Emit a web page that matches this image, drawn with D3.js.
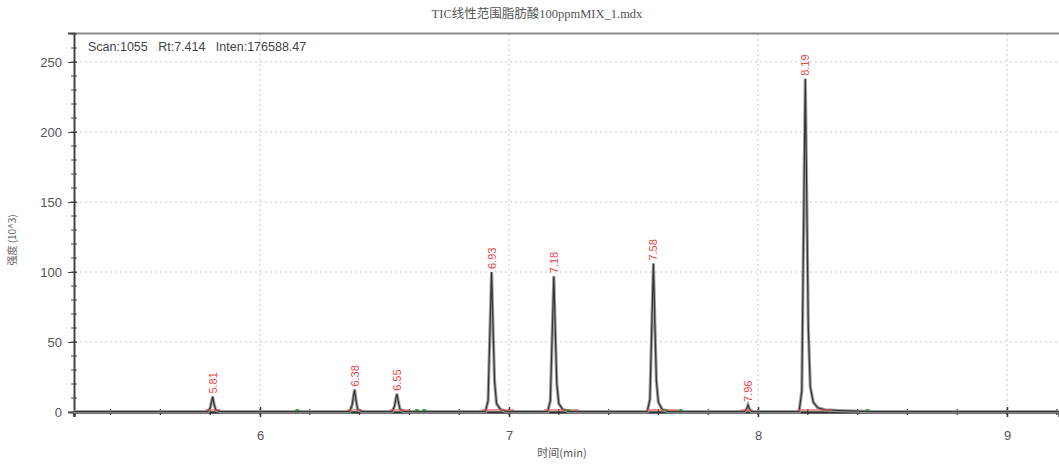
<!DOCTYPE html>
<html><head><meta charset="utf-8">
<script src="https://cdn.jsdelivr.net/npm/d3@7"></script>
<style>body{margin:0;background:#fff}svg{display:block}text{font-family:Arial,"Liberation Sans",sans-serif}</style>
</head><body><svg id="c" width="1059" height="467"></svg>
<script>
// Chromatogram trace (time in min, intensity in 10^3)
const traceTime = [5.25,5.79,5.800,5.806,5.810,5.815,5.822,5.84,
  6.36,6.370,6.376,6.380,6.385,6.392,6.41,
  6.53,6.540,6.546,6.550,6.555,6.562,6.58,
  6.905,6.916,6.923,6.930,6.936,6.942,6.950,6.965,6.99,
  7.155,7.166,7.173,7.180,7.186,7.192,7.200,7.215,7.24,
  7.555,7.566,7.573,7.580,7.586,7.592,7.600,7.615,7.64,
  7.945,7.954,7.960,7.966,7.975,
  8.165,8.176,8.183,8.190,8.196,8.202,8.210,8.222,8.24,8.27,8.33,8.40,8.45,9.21];
const traceInt = [0.3,0.3,3,8,11,6,1.5,0.3,
  0.3,5,12,16,9,2,0.3,
  0.3,4,10,13,8,2,0.3,
  0.3,8,55,100,60,22,6,2,0.3,
  0.3,8,52,97,58,20,6,2,0.3,
  0.3,9,58,106,62,22,7,2,0.3,
  0.3,2,5,2,0.3,
  0.3,15,130,238,150,60,18,7,3,1.5,1,0.6,0.3,0.3];

const peakTimes = [5.81,6.38,6.55,6.93,7.18,7.58,7.96,8.19];
const peakLabels = ["5.81","6.38","6.55","6.93","7.18","7.58","7.96","8.19"];
const peakHeights = [11,16,13,100,97,106,5,238];
const intStart = [5.78,6.35,6.52,6.89,7.14,7.55,7.93,8.16];
const intEnd = [5.84,6.41,6.60,7.02,7.28,7.68,7.98,8.30];
const greenMarks = [6.15,6.63,6.66,7.24,7.63,7.69,8.44];

const yTicks = [0,50,100,150,200,250];
const xTicks = [6,7,8,9];
const titleText = "TIC线性范围脂肪酸100ppmMIX_1.mdx";
const scanText = "Scan:1055   Rt:7.414   Inten:176588.47";
const yLabel = "强度 (10^3)";
const xLabel = "时间(min)";

const svg = d3.select("#c");
const x = d3.scaleLinear().domain([6 - 186/249, 9 + 52/249]).range([74, 1059]);
const y = d3.scaleLinear().domain([0, 379/1.4]).range([412, 33]);

// grid
const grid = svg.append("g").attr("stroke","#c8c8c8").attr("stroke-dasharray","2,3").attr("stroke-width",1);
grid.selectAll(".hg").data(yTicks.filter(d=>d>0)).join("line")
  .attr("x1",75).attr("x2",1059).attr("y1",d=>y(d)).attr("y2",d=>y(d));
grid.selectAll(".vg").data(xTicks).join("line")
  .attr("x1",d=>x(d)).attr("x2",d=>x(d)).attr("y1",34).attr("y2",411);

// frame top
svg.append("line").attr("x1",74).attr("x2",1059).attr("y1",33.5).attr("y2",33.5).attr("stroke","#8a8a8a").attr("stroke-width",2);

// y axis
const yAxis = d3.axisLeft(y).tickValues(yTicks).tickSize(6).tickPadding(6).tickFormat(d3.format("d"));
const ya = svg.append("g").attr("transform","translate(74,0)").call(yAxis);
ya.select(".domain").attr("stroke","#444").attr("stroke-width",2);
ya.selectAll(".tick line").attr("stroke","#444").attr("x2",-6).attr("x1",3);
ya.selectAll("text").attr("font-size",13).attr("fill","#555");
const yMinor = d3.range(0,271,10);
svg.append("g").selectAll("line").data(yMinor).join("line")
  .attr("x1",71).attr("x2",77).attr("y1",d=>y(d)).attr("y2",d=>y(d)).attr("stroke","#444");

// x axis
const xAxis = d3.axisBottom(x).tickValues(xTicks).tickSize(5).tickPadding(14).tickFormat(d3.format("d"));
const xa = svg.append("g").attr("transform","translate(0,412)").call(xAxis);
xa.select(".domain").attr("stroke","#333").attr("stroke-width",2.5);
xa.selectAll(".tick line").attr("stroke","#333").attr("y1",-5).attr("stroke-width",1.5);
xa.selectAll("text").attr("font-size",13).attr("fill","#555");
const xMinor = d3.range(5.4,9.21,0.2);
svg.append("g").selectAll("line").data(xMinor).join("line")
  .attr("x1",d=>x(d)).attr("x2",d=>x(d)).attr("y1",409).attr("y2",415).attr("stroke","#333").attr("stroke-width",1.2);

// trace
const pts = traceTime.map((t,i)=>[t,traceInt[i]]);
const line = d3.line().x(d=>x(d[0])).y(d=>y(d[1]));
svg.append("path").datum(pts).attr("d",line).attr("fill","none").attr("stroke","#a0a0a0").attr("stroke-width",3.2);
svg.append("path").datum(pts).attr("d",line).attr("fill","none").attr("stroke","#333").attr("stroke-width",1.2);

// integration baselines
svg.append("g").selectAll("line").data(intStart).join("line")
  .attr("x1",d=>x(d)).attr("x2",(d,i)=>x(intEnd[i])).attr("y1",410).attr("y2",410)
  .attr("stroke","#d9534f").attr("stroke-width",1.8).attr("opacity",0.6);
svg.append("g").selectAll("line").data(greenMarks).join("line")
  .attr("x1",d=>x(d)-2).attr("x2",d=>x(d)+2).attr("y1",410).attr("y2",410)
  .attr("stroke","#3a9a3a").attr("stroke-width",1.8);

// peak labels
svg.append("g").selectAll("text").data(peakTimes).join("text")
  .attr("transform",(d,i)=>`translate(${x(d)+4},${y(peakHeights[i])-3}) rotate(-90)`)
  .attr("font-size",11).attr("fill","#e8474a").text((d,i)=>peakLabels[i]);

// texts
svg.append("text").attr("x",537).attr("y",18).attr("text-anchor","middle")
  .attr("font-size",12.5).attr("fill","#555")
  .style("font-family","'Liberation Serif','Noto Sans CJK SC',serif").text(titleText);
svg.append("text").attr("x",88).attr("y",51).attr("font-size",12.5).attr("fill","#444")
  .style("white-space","pre").text(scanText);
svg.append("text").attr("transform","translate(16,240) rotate(-90)").attr("text-anchor","middle")
  .attr("font-size",10).attr("fill","#666").style("font-family","'Noto Sans CJK SC',sans-serif").text(yLabel);
svg.append("text").attr("x",562).attr("y",457).attr("text-anchor","middle")
  .attr("font-size",11).attr("fill","#555").style("font-family","'Noto Sans CJK SC',sans-serif").text(xLabel);
</script></body></html>
